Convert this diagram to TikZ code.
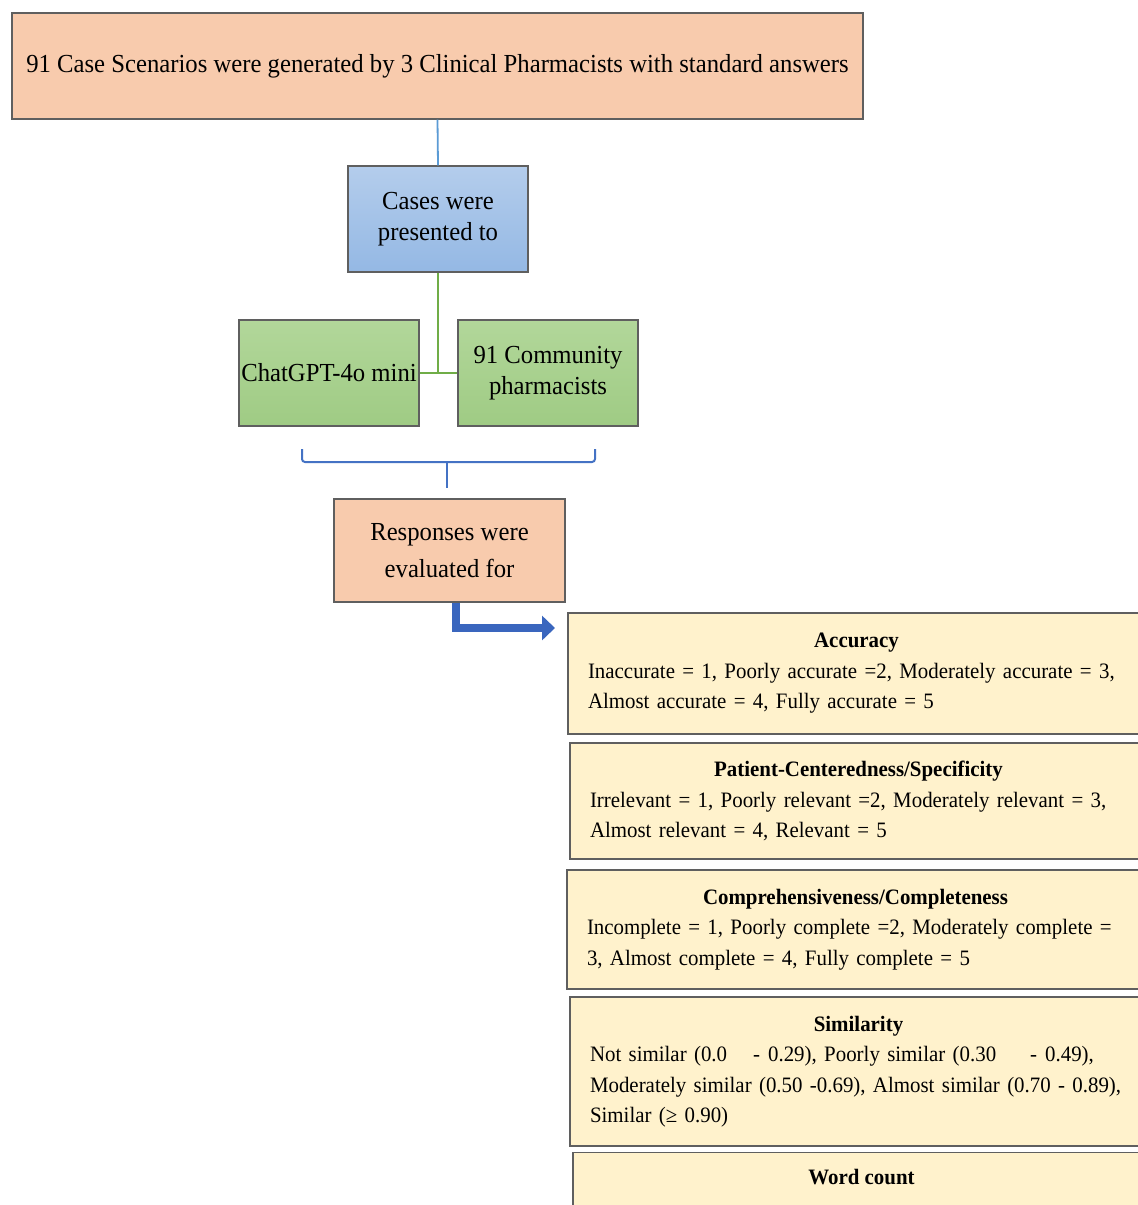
\documentclass[tikz,border=0pt]{standalone}
\usepackage{fontspec}
\setmainfont{Liberation Serif}[FakeStretch=0.95]
\usetikzlibrary{arrows.meta}
\definecolor{peach}{HTML}{F8CBAD}
\definecolor{boxblueA}{HTML}{B4CDEC}
\definecolor{boxblueB}{HTML}{94B8E4}
\definecolor{boxgreenA}{HTML}{B2D79A}
\definecolor{boxgreenB}{HTML}{9FCB84}
\definecolor{paleyellow}{HTML}{FFF2CC}
\definecolor{linkblue}{HTML}{5B9BD5}
\definecolor{bracketblue}{HTML}{4472C4}
\definecolor{linkgreen}{HTML}{70AD47}
\definecolor{arrowblue}{HTML}{3A66BE}
\definecolor{edgegray}{HTML}{5F5F5F}
\begin{document}
\begin{tikzpicture}[x=1pt,y=-1pt,
  basebox/.style={draw=edgegray, line width=1.4pt, inner sep=0pt, align=center,
    font=\fontsize{26}{31}\selectfont},
  peachbox/.style={basebox, fill=peach},
  bluebox/.style={basebox, top color=boxblueA, bottom color=boxblueB},
  greenbox/.style={basebox, top color=boxgreenA, bottom color=boxgreenB},
  yelbox/.style={draw=edgegray, line width=1.4pt, fill=paleyellow, align=left,
    text width=537pt, inner xsep=20pt, inner ysep=0pt,
    font=\fontsize{22}{30.5}\selectfont},
  blueline/.style={draw=linkblue, line width=1.8pt},
  greenline/.style={draw=linkgreen, line width=2.6pt},
  bracket/.style={draw=bracketblue, line width=2pt},
  bigarrow/.style={draw=arrowblue, line width=8pt,
    -{Triangle[length=13pt,width=24pt]}}
]
\useasboundingbox (0,0) rectangle (1138,1205);
\fill[white] (0,0) rectangle (1138,1205);
\clip (0,0) rectangle (1138,1205);

\node[peachbox, minimum width=851pt, minimum height=106pt] (top) at (437.5,66)
  {91 Case Scenarios were generated by 3 Clinical Pharmacists with standard answers};
\node[bluebox, minimum width=180pt, minimum height=106pt] (cases) at (438,219)
  {Cases were\\presented to};
\node[greenbox, minimum width=180pt, minimum height=106pt] (gpt) at (329,373)
  {ChatGPT-4o mini};
\node[greenbox, minimum width=180pt, minimum height=106pt] (cp) at (548,373)
  {91 Community\\pharmacists};
\node[peachbox, minimum width=231pt, minimum height=103pt,
  font=\fontsize{26}{37}\selectfont] (resp) at (449.5,550.5)
  {Responses were\\evaluated for\rule{0pt}{6pt}};

\node[yelbox, minimum height=121pt] (acc) at (856.5,673.5)
  {\makebox[\linewidth][c]{\bfseries Accuracy}\\
   Inaccurate = 1, Poorly accurate =2, Moderately accurate = 3,\\
   Almost accurate = 4, Fully accurate = 5};
\node[yelbox, minimum height=116pt] (pcs) at (858.5,801)
  {\makebox[\linewidth][c]{\bfseries Patient-Centeredness/Specificity}\\
   Irrelevant = 1, Poorly relevant =2, Moderately relevant = 3,\\
   Almost relevant = 4, Relevant = 5};
\node[yelbox, minimum height=119pt] (comp) at (855.5,929.5)
  {\makebox[\linewidth][c]{\bfseries Comprehensiveness/Completeness}\\
   Incomplete = 1, Poorly complete =2, Moderately complete =\\
   3, Almost complete = 4, Fully complete = 5};
\node[yelbox, minimum height=149pt] (sim) at (858.5,1071.5)
  {\makebox[\linewidth][c]{\bfseries Similarity}\\
   Not similar (0.0\hspace{26pt}-\hspace{8pt}0.29), Poorly similar (0.30\hspace{34pt}-\hspace{8pt}0.49),\\
   Moderately similar (0.50 -0.69), Almost similar (0.70 - 0.89),\\
   Similar (≥ 0.90)};
\node[yelbox, minimum height=80pt, anchor=north] (wc) at (861.5,1152) {};
\node[font=\fontsize{22}{30.5}\selectfont\bfseries] (wct) at (861.5,1177) {Word count};

% connectors
\draw[blueline] (top.south) -- (cases.north);
\coordinate (junction) at (cases.south |- gpt.east);
\draw[greenline] (cases.south) -- (junction);
\draw[greenline] (gpt.east) -- (cp.west);

\coordinate (brL) at (302,449);
\coordinate (brR) at (595,449);
\coordinate (brM) at (447,462);
\coordinate (brT) at (447,488);
\draw[bracket, rounded corners=3pt] (brL) |- (brM) -| (brR);
\draw[bracket] (brM) -- (brT);

\coordinate (arrEnd) at (555,628);
\draw[bigarrow] ([xshift=6.5pt]resp.south) |- (arrEnd);
\end{tikzpicture}
\end{document}
